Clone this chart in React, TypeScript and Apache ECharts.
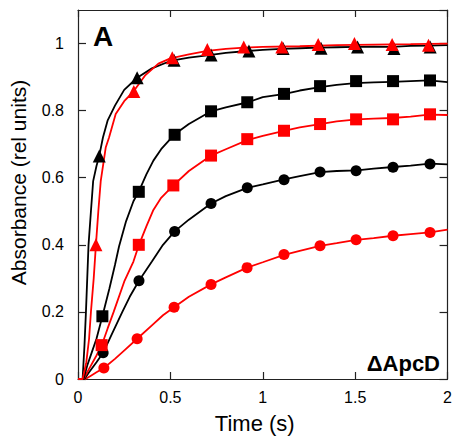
import React, { useEffect, useRef } from "react";
import * as echarts from "echarts";

const xTicks = [0, 0.5, 1, 1.5, 2];
const yTicks = [0, 0.2, 0.4, 0.6, 0.8, 1];

// Traces (time s, absorbance)
const blackTriLine = [[0,0],[0.025,0],[0.035,0.1],[0.043,0.2],[0.05,0.3],[0.057,0.4],[0.07,0.5],[0.082,0.59],[0.1,0.635],[0.115,0.665],[0.135,0.72],[0.16,0.77],[0.2,0.815],[0.25,0.862],[0.32,0.898],[0.4,0.926],[0.5,0.948],[0.6,0.958],[0.7,0.965],[0.8,0.972],[0.9,0.977],[1.0,0.981],[1.1,0.984],[1.2,0.986],[1.3,0.988],[1.4,0.989],[1.5,0.99],[1.6,0.991],[1.7,0.99],[1.8,0.993],[1.9,0.994],[2.0,0.995]];
const redTriLine = [[0,0],[0.025,0],[0.045,0.05],[0.06,0.12],[0.07,0.2],[0.085,0.3],[0.097,0.4],[0.11,0.5],[0.123,0.59],[0.15,0.69],[0.168,0.72],[0.204,0.79],[0.25,0.828],[0.3,0.857],[0.365,0.906],[0.435,0.94],[0.5,0.956],[0.6,0.968],[0.7,0.978],[0.8,0.984],[0.9,0.988],[1.0,0.99],[1.2,0.992],[1.4,0.995],[1.6,0.997],[1.8,0.998],[2.0,1.0]];
const blackSqLine = [[0,0],[0.03,0],[0.05,0.04],[0.075,0.08],[0.1,0.12],[0.132,0.187],[0.17,0.27],[0.2,0.34],[0.222,0.395],[0.26,0.47],[0.3,0.53],[0.33,0.56],[0.37,0.61],[0.408,0.651],[0.45,0.685],[0.52,0.728],[0.6,0.76],[0.72,0.798],[0.8,0.81],[0.92,0.825],[1.0,0.84],[1.12,0.85],[1.2,0.86],[1.31,0.87],[1.4,0.877],[1.5,0.882],[1.6,0.884],[1.7,0.886],[1.8,0.888],[1.9,0.89],[2.0,0.885]];
const redSqLine = [[0,0],[0.03,0],[0.06,0.03],[0.1,0.07],[0.128,0.1],[0.16,0.15],[0.193,0.2],[0.25,0.29],[0.3,0.35],[0.33,0.4],[0.37,0.455],[0.408,0.504],[0.45,0.54],[0.516,0.577],[0.6,0.62],[0.72,0.666],[0.8,0.685],[0.916,0.712],[1.0,0.725],[1.115,0.74],[1.2,0.75],[1.31,0.76],[1.4,0.768],[1.51,0.774],[1.6,0.776],[1.7,0.778],[1.8,0.782],[1.9,0.788],[2.0,0.787]];
const blackCircLine = [[0,0],[0.035,0],[0.06,0.02],[0.1,0.05],[0.136,0.078],[0.18,0.13],[0.24,0.2],[0.28,0.245],[0.33,0.293],[0.4,0.35],[0.46,0.4],[0.523,0.44],[0.6,0.475],[0.72,0.523],[0.8,0.545],[0.916,0.57],[1.0,0.58],[1.115,0.595],[1.2,0.605],[1.31,0.617],[1.4,0.62],[1.51,0.622],[1.6,0.627],[1.705,0.632],[1.8,0.636],[1.905,0.642],[2.0,0.64]];
const redCircLine = [[0,0],[0.04,0],[0.07,0.01],[0.1,0.02],[0.14,0.033],[0.2,0.06],[0.26,0.09],[0.32,0.12],[0.4,0.16],[0.46,0.19],[0.52,0.214],[0.6,0.245],[0.72,0.282],[0.8,0.303],[0.915,0.332],[1.0,0.348],[1.115,0.37],[1.2,0.382],[1.31,0.397],[1.4,0.405],[1.505,0.415],[1.6,0.42],[1.705,0.427],[1.8,0.432],[1.905,0.437],[2.0,0.445]];

// Markers
const blackTriPts = [[0.115,0.665],[0.32,0.898],[0.52,0.95],[0.72,0.966],[0.925,0.978],[1.11,0.985],[1.315,0.986],[1.513,0.99],[1.71,0.985],[1.906,0.99]];
const redTriPts = [[0.097,0.4],[0.302,0.857],[0.51,0.958],[0.7,0.982],[0.897,0.99],[1.103,0.99],[1.3,0.997],[1.496,1.0],[1.7,0.997],[1.897,0.995]];
const blackSqPts = [[0.132,0.187],[0.329,0.558],[0.523,0.728],[0.72,0.798],[0.916,0.825],[1.115,0.85],[1.31,0.873],[1.505,0.888],[1.705,0.888],[1.905,0.89]];
const redSqPts = [[0.128,0.101],[0.329,0.4],[0.516,0.577],[0.72,0.666],[0.916,0.715],[1.115,0.74],[1.31,0.76],[1.505,0.774],[1.705,0.774],[1.905,0.789]];
const blackCircPts = [[0.136,0.078],[0.33,0.293],[0.523,0.44],[0.72,0.523],[0.916,0.57],[1.115,0.594],[1.31,0.617],[1.505,0.621],[1.705,0.631],[1.905,0.641]];
const redCircPts = [[0.14,0.033],[0.32,0.12],[0.52,0.214],[0.72,0.282],[0.915,0.332],[1.115,0.371],[1.31,0.397],[1.505,0.415],[1.705,0.427],[1.905,0.437]];

const BLACK = "#000000";
const RED = "#ff0000";
const FONT = "'Liberation Sans', Arial, sans-serif";

export default function App() {
  const ref = useRef<HTMLDivElement>(null);
  useEffect(() => {
    if (!ref.current) return;
    const chart = echarts.init(ref.current, null, { renderer: "svg" });
    const lineS = (data: number[][], color: string) => ({
      type: "line", data, symbol: "none", showSymbol: false, z: 2,
      lineStyle: { color, width: 1.8 }, silent: true,
    });
    const markS = (data: number[][], color: string, symbol: string, size: number) => ({
      type: "scatter", data, symbol, symbolSize: size, z: 3,
      itemStyle: { color, opacity: 1 }, silent: true,
    });
    const axisLineStyle = { color: "#222", width: 1.2 };
    chart.setOption({
      animation: false,
      backgroundColor: "#fff",
      grid: { left: 77, right: 4, top: 10, bottom: 55, containLabel: false },
      xAxis: [
        {
          type: "value", min: 0, max: 2, interval: 0.5,
          name: "Time (s)", nameLocation: "middle", nameGap: 33,
          nameTextStyle: { fontFamily: FONT, fontSize: 22, color: "#000", padding: [0, 16, 0, 0] },
          axisLine: { show: true, onZero: false, lineStyle: axisLineStyle },
          axisTick: { show: true, inside: true, length: 7, lineStyle: axisLineStyle },
          axisLabel: { fontFamily: FONT, fontSize: 16, color: "#000", margin: 10,
            formatter: (v: number) => (xTicks.includes(v) ? String(v) : "") },
          splitLine: { show: false },
        },
        {
          type: "value", min: 0, max: 2, interval: 0.5, position: "top",
          axisLine: { show: true, onZero: false, lineStyle: axisLineStyle },
          axisTick: { show: true, inside: true, length: 7, lineStyle: axisLineStyle },
          axisLabel: { show: false }, splitLine: { show: false },
        },
      ],
      yAxis: [
        {
          type: "value", min: 0, max: 1.1, interval: 0.2,
          name: "Absorbance (rel units)", nameLocation: "middle", nameGap: 49,
          nameTextStyle: { fontFamily: FONT, fontSize: 21, color: "#000", padding: [0, 0, 0, 24] },
          axisLine: { show: true, onZero: false, lineStyle: axisLineStyle },
          axisTick: { show: true, inside: true, length: 8, lineStyle: axisLineStyle },
          axisLabel: { fontFamily: FONT, fontSize: 16, color: "#000", margin: 14, showMaxLabel: false,
            formatter: (v: number) => (yTicks.some((t) => Math.abs(t - v) < 1e-9) ? String(Math.round(v * 10) / 10) : "") },
          splitLine: { show: false },
        },
        {
          type: "value", min: 0, max: 1.1, interval: 0.2, position: "right",
          axisLine: { show: true, onZero: false, lineStyle: axisLineStyle },
          axisTick: { show: true, inside: true, length: 8, lineStyle: axisLineStyle },
          axisLabel: { show: false }, splitLine: { show: false },
        },
      ],
      graphic: [
        { type: "text", left: 93, top: 22, style: { text: "A", font: `bold 28px ${FONT}`, fill: "#000" } },
        { type: "text", right: 15, top: 352, style: { text: "ΔApcD", font: `bold 22px ${FONT}`, fill: "#000" } },
      ],
      series: [
        lineS(redCircLine, RED),
        lineS(blackCircLine, BLACK),
        lineS(redSqLine, RED),
        lineS(blackSqLine, BLACK),
        lineS(blackTriLine, BLACK),
        lineS(redTriLine, RED),
        markS(redCircPts, RED, "circle", 11),
        markS(blackCircPts, BLACK, "circle", 11),
        markS(redSqPts, RED, "rect", 12),
        markS(blackSqPts, BLACK, "rect", 12),
        markS(blackTriPts, BLACK, "triangle", 13),
        markS(redTriPts, RED, "triangle", 13),
      ],
    });
    return () => chart.dispose();
  }, []);
  return (
    <div
      ref={ref}
      style={{ position: "fixed", left: 0, top: 0, width: 455, height: 439, background: "#fff" }}
    />
  );
}
